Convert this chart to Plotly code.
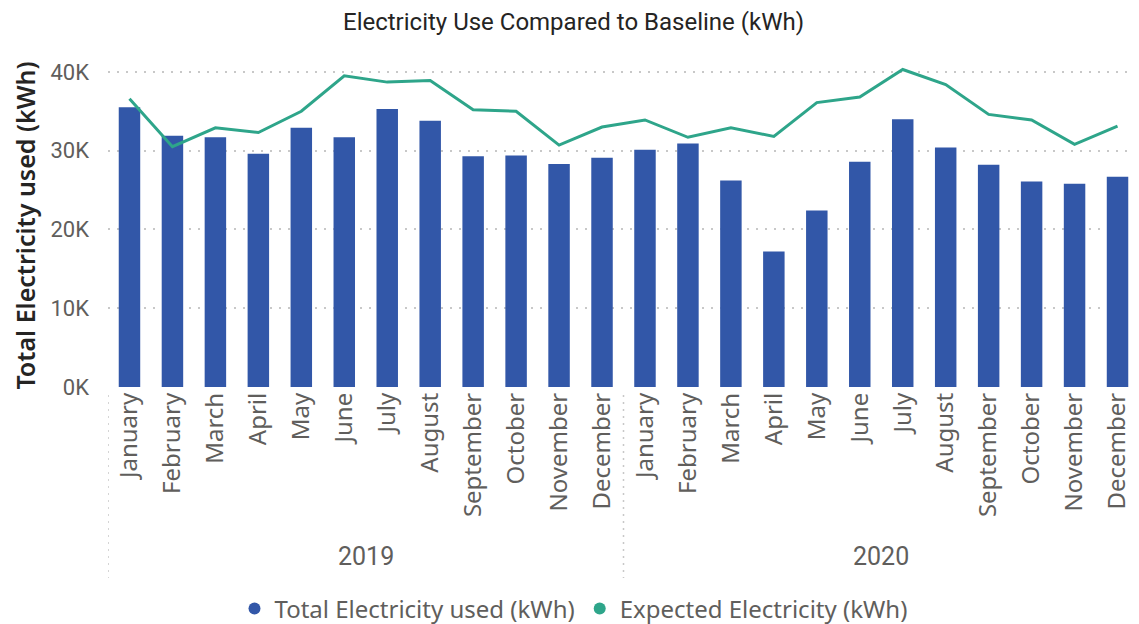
import plotly.graph_objects as go

months = ["January", "February", "March", "April", "May", "June", "July",
          "August", "September", "October", "November", "December"]
years = ["2019", "2020"]
categories = [f"{m} {y}" for y in years for m in months]
tick_labels = months + months

total_used = [35500, 31900, 31700, 29600, 32900, 31700, 35300, 33800, 29300, 29400, 28300, 29100,
              30100, 30900, 26200, 17200, 22400, 28600, 34000, 30400, 28200, 26100, 25800, 26700]
expected = [36600, 30500, 32900, 32300, 35000, 39500, 38700, 38900, 35200, 35000, 30700, 33000,
            33900, 31700, 32900, 31800, 36100, 36800, 40300, 38400, 34600, 33900, 30800, 33100]

y_ticks = [0, 10000, 20000, 30000, 40000]
y_tick_labels = ["0K", "10K", "20K", "30K", "40K"]

series_names = ["Total Electricity used (kWh)", "Expected Electricity (kWh)"]

BAR = "#3257A8"
LINE = "#2EA58A"
GREY = "#605E5C"

# the page body has an 8px margin, so the figure is drawn 8px in from the top-left
W, H = 1131, 616
PLOT_TOP, PLOT_BOTTOM = 56, 379
PLOT_H = PLOT_BOTTOM - PLOT_TOP

fig = go.Figure()
fig.add_trace(go.Bar(x=categories, y=total_used, name=series_names[0], showlegend=False,
                     marker=dict(color=BAR, line=dict(width=0))))
fig.add_trace(go.Scatter(x=categories, y=expected, name=series_names[1], showlegend=False,
                         mode="lines", line=dict(color=LINE, width=3)))
# legend entries with round markers (as in the reference)
for name, col in zip(series_names, [BAR, LINE]):
    fig.add_trace(go.Scatter(x=[None], y=[None], mode="markers", name=name,
                             marker=dict(color=col, size=12, symbol="circle")))

fig.update_layout(
    width=W, height=H,
    margin=dict(l=100, r=0, t=PLOT_TOP, b=H - PLOT_BOTTOM, autoexpand=False),
    paper_bgcolor="white", plot_bgcolor="white",
    bargap=0.5,
    showlegend=True,
    title=dict(text="Electricity Use Compared to Baseline (kWh)", x=0.5, xanchor="center",
               y=1 - 14 / H, yanchor="middle", yref="container", automargin=False,
               font=dict(family="Roboto", size=24, color="#252423")),
    legend=dict(orientation="h", x=0.5, xanchor="center", xref="container",
                y=(H - 601) / H, yanchor="middle", yref="container",
                font=dict(family="Noto Sans", size=24, color=GREY),
                itemwidth=30, tracegroupgap=0, traceorder="normal"),
    xaxis=dict(type="category", tickvals=categories, ticktext=tick_labels, tickangle=-90,
               tickfont=dict(family="Noto Sans", size=24, color=GREY), automargin=False,
               showgrid=False, zeroline=False, showline=False, ticks="", range=[-0.5, 23.5]),
    yaxis=dict(range=[0, 41000], tickvals=y_ticks, ticktext=y_tick_labels, automargin=False,
               tickfont=dict(family="Roboto", size=22, color=GREY),
               showgrid=True, gridcolor="#C8C8C8", griddash="2px,7px", gridwidth=1.5,
               zeroline=False, showline=False, ticks="", ticklabelstandoff=18,
               title=dict(text="Total Electricity used (kWh)",
                          font=dict(family="Noto Sans", size=25, color="#252423", weight=600),
                          standoff=8)),
)

# year labels and dotted separators
for i, y in enumerate(years):
    fig.add_annotation(x=i * 12 + 5.5, y=-(548 - PLOT_BOTTOM) / PLOT_H, xref="x", yref="paper",
                       text=y, showarrow=False, yanchor="middle",
                       font=dict(family="Roboto", size=25, color=GREY))
for xs in [-0.5, 11.5]:
    fig.add_shape(type="line", xref="x", yref="paper", x0=xs, x1=xs,
                  y0=-(387 - PLOT_BOTTOM) / PLOT_H, y1=-(570 - PLOT_BOTTOM) / PLOT_H,
                  line=dict(color="#C8C8C8", width=1.5, dash="2px,5px"))

fig.write_html("out.html")
